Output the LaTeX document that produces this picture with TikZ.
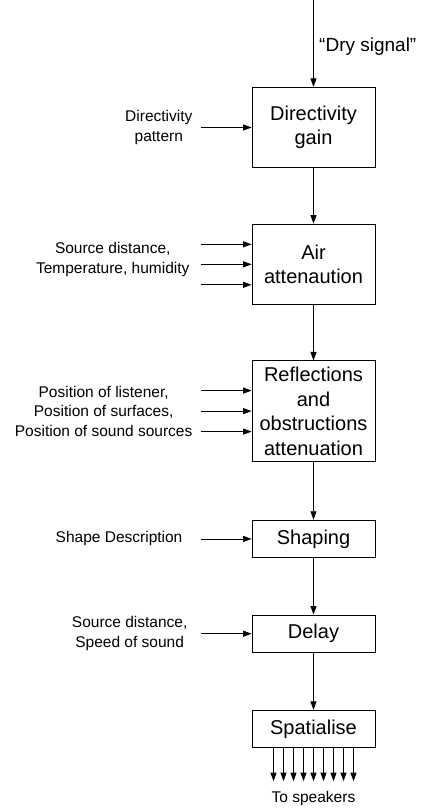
\documentclass[tikz,border=0pt]{standalone}
\usepackage{fontspec}
\setmainfont{Liberation Sans}
\usetikzlibrary{arrows.meta, positioning}

\begin{document}
\begin{tikzpicture}[
  x=1pt, y=1pt,
  stage/.style={rectangle, draw, line width=0.8pt, minimum width=123pt, align=center, font=\fontsize{20}{24.5}\selectfont, inner sep=0pt},
  note/.style={align=center, font=\fontsize{15.5}{19.5}\selectfont, inner sep=0pt},
  arrow/.style={-{Triangle[length=8.5pt, width=6pt]}, line width=0.8pt},
  node distance=55.5pt
]
\useasboundingbox (0,0) rectangle (424,-808);

% Stage 1: Directivity gain
\coordinate (top) at (313.5,0);
\node[stage, minimum height=80.5pt] (gain) at (313.5,-127.5) {Directivity\\gain};
\node[anchor=west, inner sep=0pt, font=\fontsize{19}{23}\selectfont] (dry) at (319,-47) {“Dry signal”};
\coordinate[left=51pt of gain.west] (dirin);
\node[note, left=8pt of dirin] (dirlbl) {Directivity\\pattern};

% Stage 2: Air attenuation
\node[stage, minimum height=80.5pt, below=of gain] (air) {Air\\attenaution};
\coordinate[left=51pt of air.west] (airin2);
\coordinate[above=20pt of airin2] (airin1);
\coordinate[below=20.5pt of airin2] (airin3);
\node[note, left=11pt of airin2, yshift=5pt] (airlbl) {Source distance,\\Temperature, humidity};

% Stage 3: Reflections
\node[stage, minimum height=100.5pt, below=of air] (refl) {Reflections\\and\\obstructions\\attenuation};
\coordinate[left=51pt of refl.west] (reflin2);
\coordinate[above=20.5pt of reflin2] (reflin1);
\coordinate[below=20.5pt of reflin2] (reflin3);
\node[note, left=8pt of reflin2] (refllbl) {Position of listener,\\Position of surfaces,\\Position of sound sources};

% Stage 4: Shaping
\node[stage, minimum height=37.5pt, below=58pt of refl] (shape) {Shaping};
\coordinate[left=51pt of shape.west] (shapein);
\node[note, left=18pt of shapein] (shapelbl) {Shape Description};

% Stage 5: Delay
\node[stage, minimum height=37.5pt, below=56.5pt of shape] (delay) {Delay};
\coordinate[left=51pt of delay.west] (delayin);
\node[note, left=13pt of delayin] (delaylbl) {Source distance,\\Speed of sound};

% Stage 6: Spatialise
\node[stage, minimum height=37.5pt, below=57pt of delay] (spat) {Spatialise};
\foreach \i in {-4,...,4}
  \coordinate[below=33pt of spat.south, xshift=\i*10pt] (spk\i);
\node[note, below=10pt of spk0] (spklbl) {To speakers};

% Arrows
\draw[arrow] (top) -- (gain);
\draw[arrow] (dirin) -- (gain.west |- dirin);
\draw[arrow] (gain) -- (air);
\draw[arrow] (airin1) -- (air.west |- airin1);
\draw[arrow] (airin2) -- (air.west |- airin2);
\draw[arrow] (airin3) -- (air.west |- airin3);
\draw[arrow] (air) -- (refl);
\draw[arrow] (reflin1) -- (refl.west |- reflin1);
\draw[arrow] (reflin2) -- (refl.west |- reflin2);
\draw[arrow] (reflin3) -- (refl.west |- reflin3);
\draw[arrow] (refl) -- (shape);
\draw[arrow] (shapein) -- (shape.west |- shapein);
\draw[arrow] (shape) -- (delay);
\draw[arrow] (delayin) -- (delay.west |- delayin);
\draw[arrow] (delay) -- (spat);
\foreach \i in {-4,...,4}
  \draw[arrow] (spat.south -| spk\i) -- (spk\i);
\end{tikzpicture}
\end{document}
